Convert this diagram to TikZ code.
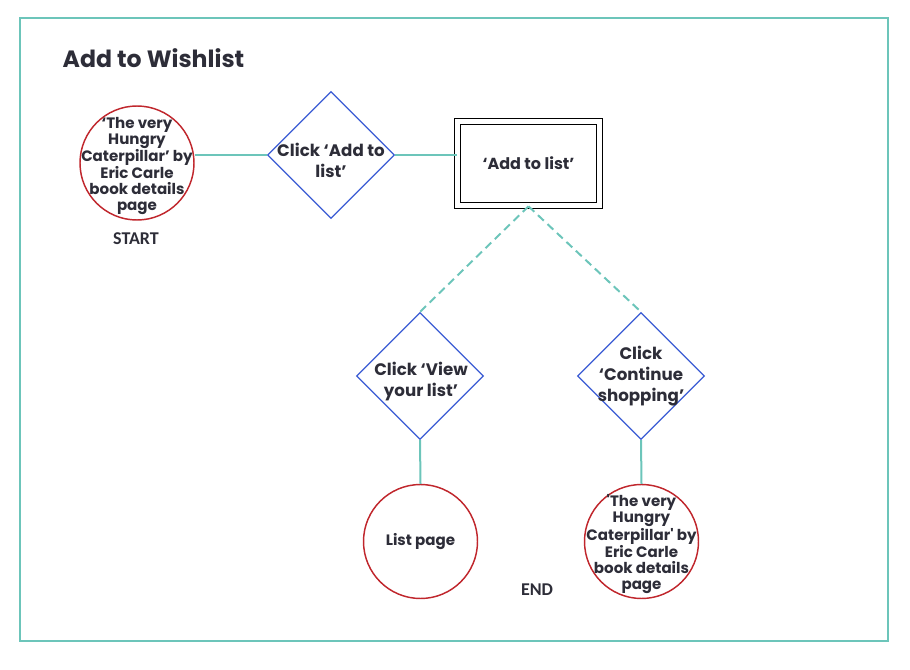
\documentclass[tikz,border=0pt]{standalone}
\usepackage{fontspec}
\setmainfont{Poppins}
\newfontfamily\tagfont{Carlito}
\usetikzlibrary{shapes.geometric}
\definecolor{frameteal}{HTML}{6CC5BA}
\definecolor{pagered}{HTML}{C0272D}
\definecolor{stepblue}{HTML}{3A5BD4}
\definecolor{inkgrey}{HTML}{2D2D38}
\begin{document}
\begin{tikzpicture}[x=0.75pt,y=-0.75pt,
  page/.style={circle,draw=pagered,line width=1.1pt,minimum size=85.5pt,inner sep=0pt},
  pagetext/.style={text=inkgrey,font=\bfseries\fontsize{11.3}{12}\selectfont,align=center,inner sep=0pt},
  choice/.style={diamond,draw=stepblue,line width=0.9pt,minimum width=95.25pt,minimum height=95.25pt,inner sep=0pt},
  choicetext/.style={text=inkgrey,font=\bfseries\fontsize{12.5}{15.75}\selectfont,align=center,inner sep=0pt},
  tag/.style={text=inkgrey,font=\tagfont\bfseries\fontsize{13.5}{15}\selectfont},
  link/.style={draw=frameteal,line width=1.5pt},
  branch/.style={link,dash pattern=on 6pt off 3.75pt}]
\useasboundingbox (0,0) rectangle (910,670);
\draw[frameteal,line width=2.2pt] (20,18) rectangle (888,641);
\node[anchor=base west,text=inkgrey,font=\bfseries\fontsize{17.7}{22}\selectfont] (title) at (58,68) {Add to Wishlist};
% start page
\node[page] (start) at (137,163) {};
\node[pagetext] (starttext) at (137,166) {‘The very\\Hungry\\Caterpillar’ by\\Eric Carle\\book details\\page};
\node[tag] (starttag) at (136,239) {START};
% first choice and the list box
\node[choice] (addclick) at (331,155) {};
\node[choicetext] (addtext) at (331,160) {Click ‘Add to\\list’};
\node[draw,double,double distance=3.5pt,line width=0.8pt,minimum width=106.5pt,minimum height=63.4pt,
  text=inkgrey,font=\bfseries\fontsize{12}{14}\selectfont] (listbox) at (528.5,163.5) {‘Add to list’};
% second choices
\node[choice] (viewclick) at (420,376) {};
\node[choicetext] (viewtext) at (421,382) {Click ‘View\\your list’};
\node[choice] (contclick) at (641,376) {};
\node[choicetext] (conttext) at (641,376) {Click\\‘Continue\\shopping’};
% end pages
\node[page] (listpage) at (420.5,541.5) {};
\node[pagetext] (listtext) at (420.5,542) {List page};
\node[page] (shoppage) at (641.5,541.5) {};
\node[pagetext] (shoptext) at (641.5,544) {\textquotesingle The very\\Hungry\\Caterpillar\textquotesingle{} by\\Eric Carle\\book details\\page};
\node[tag] (endtag) at (537,590) {END};
% connectors
\draw[link] (addclick.west) -- (addclick.west -| start.east);
\draw[link] (addclick.east) -- (addclick.east -| listbox.west);
\draw[branch] (listbox.south) -- (viewclick.north);
\draw[branch] (listbox.south) -- (contclick.north);
\draw[link] (viewclick.south) -- (listpage.north);
\draw[link] (contclick.south) -- (shoppage.north);
\end{tikzpicture}
\end{document}
